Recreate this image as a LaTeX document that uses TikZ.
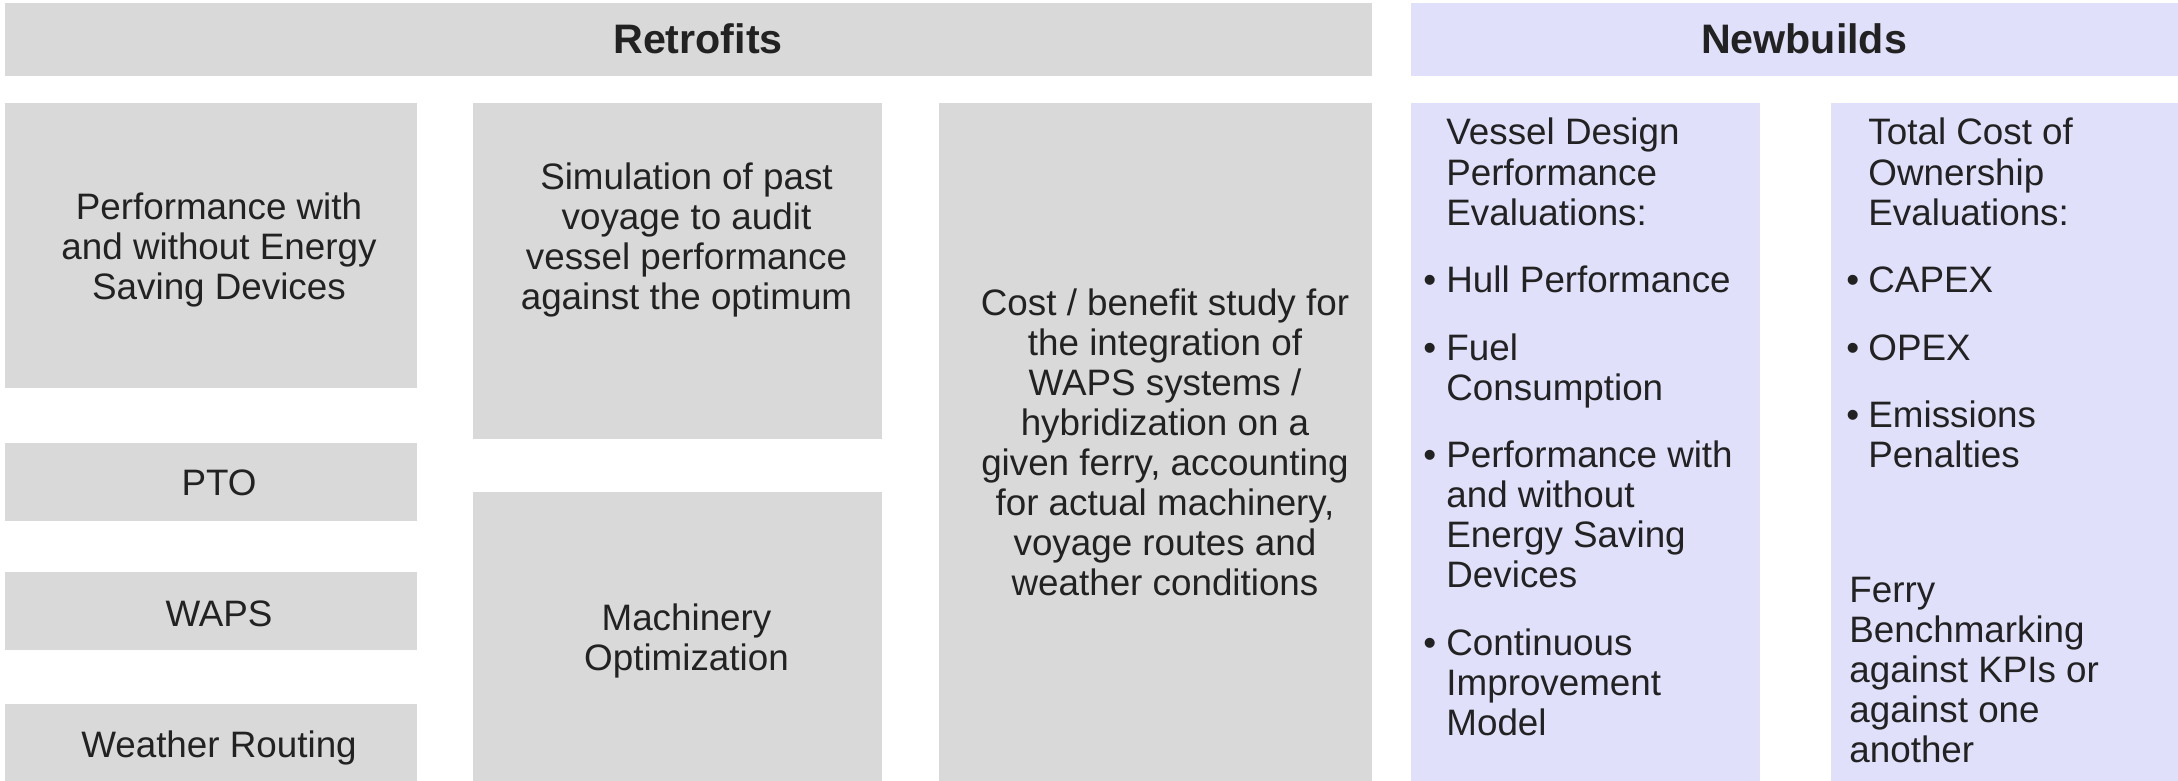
\documentclass[tikz,border=0pt]{standalone}
\usepackage{fontspec}
\setmainfont{Liberation Sans}
\definecolor{boxgray}{HTML}{D9D9D9}
\definecolor{boxlav}{HTML}{E0E0FA}
\definecolor{ink}{HTML}{222222}
\begin{document}
\begin{tikzpicture}[x=0.5pt,y=-0.5pt,
  panel/.style={draw=none,inner sep=0pt,outer sep=0pt,anchor=north west},
  gbox/.style={panel,fill=boxgray},
  lbox/.style={panel,fill=boxlav},
  body/.style={inner sep=0pt,text=ink,font=\fontsize{18.4}{20}\selectfont,align=center,anchor=base},
  lbody/.style={body,align=left,anchor=base west},
  bul/.style={inner sep=0pt,text=ink,font=\fontsize{18.4}{20}\selectfont,anchor=base west},
  head/.style={inner sep=0pt,text=ink,font=\fontsize{20.6}{24}\selectfont\bfseries,anchor=base}]
\useasboundingbox (0,0) rectangle (2178,781);
% header bars
\node[gbox,minimum width=683.5pt,minimum height=36.5pt] (hR) at (5,3) {};
\node[lbox,minimum width=383.5pt,minimum height=36.5pt] (hN) at (1411,3) {};
\node[head] (tR) at (698,54) {Retrofits};
\node[head] (tN) at (1804,54) {Newbuilds};
% retrofit column 1 (base anchor = last line baseline)
\node[gbox,minimum width=206pt,minimum height=142.5pt] (b1) at (5,103) {};
\node[gbox,minimum width=206pt,minimum height=39pt] (pto) at (5,443) {};
\node[gbox,minimum width=206pt,minimum height=39pt] (waps) at (5,572) {};
\node[gbox,minimum width=206pt,minimum height=38.5pt] (wr) at (5,704) {};
\node[body] (t1) at (219,299) {Performance with\\and without Energy\\Saving Devices};
\node[body] (tpto) at (219,495) {PTO};
\node[body] (twaps) at (219,626) {WAPS};
\node[body] (twr) at (219,757) {Weather Routing};
% retrofit column 2
\node[gbox,minimum width=204.5pt,minimum height=168pt] (sim) at (473,103) {};
\node[gbox,minimum width=204.5pt,minimum height=144.5pt] (mach) at (473,492) {};
\node[body] (tsim) at (686.5,309) {Simulation of past\\voyage to audit\\vessel performance\\against the optimum};
\node[body] (tmach) at (686.5,670) {Machinery\\Optimization};
% retrofit column 3
\node[gbox,minimum width=216.5pt,minimum height=339pt] (cost) at (939,103) {};
\node[body] (tcost) at (1165,595) {Cost / benefit study for\\the integration of\\WAPS systems /\\hybridization on a\\given ferry, accounting\\for actual machinery,\\voyage routes and\\weather conditions};
% newbuilds column 1
\node[lbox,minimum width=174.5pt,minimum height=339pt] (nb1) at (1411,103) {};
\node[lbody] (v0) at (1446,225) {Vessel Design\\Performance\\Evaluations:};
\node[bul] (vb1) at (1423,292.5) {•};
\node[lbody] (v1) at (1446,292.5) {Hull Performance};
\node[bul] (vb2) at (1423,360) {•};
\node[lbody] (v2) at (1446,400) {Fuel\\Consumption};
\node[bul] (vb3) at (1423,467.5) {•};
\node[lbody] (v3) at (1446,587.5) {Performance with\\and without\\Energy Saving\\Devices};
\node[bul] (vb4) at (1423,655) {•};
\node[lbody] (v4) at (1446,735) {Continuous\\Improvement\\Model};
% newbuilds column 2
\node[lbox,minimum width=173.5pt,minimum height=339pt] (nb2) at (1831,103) {};
\node[lbody] (c0) at (1868,225) {Total Cost of\\Ownership\\Evaluations:};
\node[bul] (cb1) at (1846,292.5) {•};
\node[lbody] (c1) at (1868,292.5) {CAPEX};
\node[bul] (cb2) at (1846,360) {•};
\node[lbody] (c2) at (1868,360) {OPEX};
\node[bul] (cb3) at (1846,427.5) {•};
\node[lbody] (c3) at (1868,467.5) {Emissions\\Penalties};
\node[lbody] (c4) at (1849,762) {Ferry\\Benchmarking\\against KPIs or\\against one\\another};
\end{tikzpicture}
\end{document}
